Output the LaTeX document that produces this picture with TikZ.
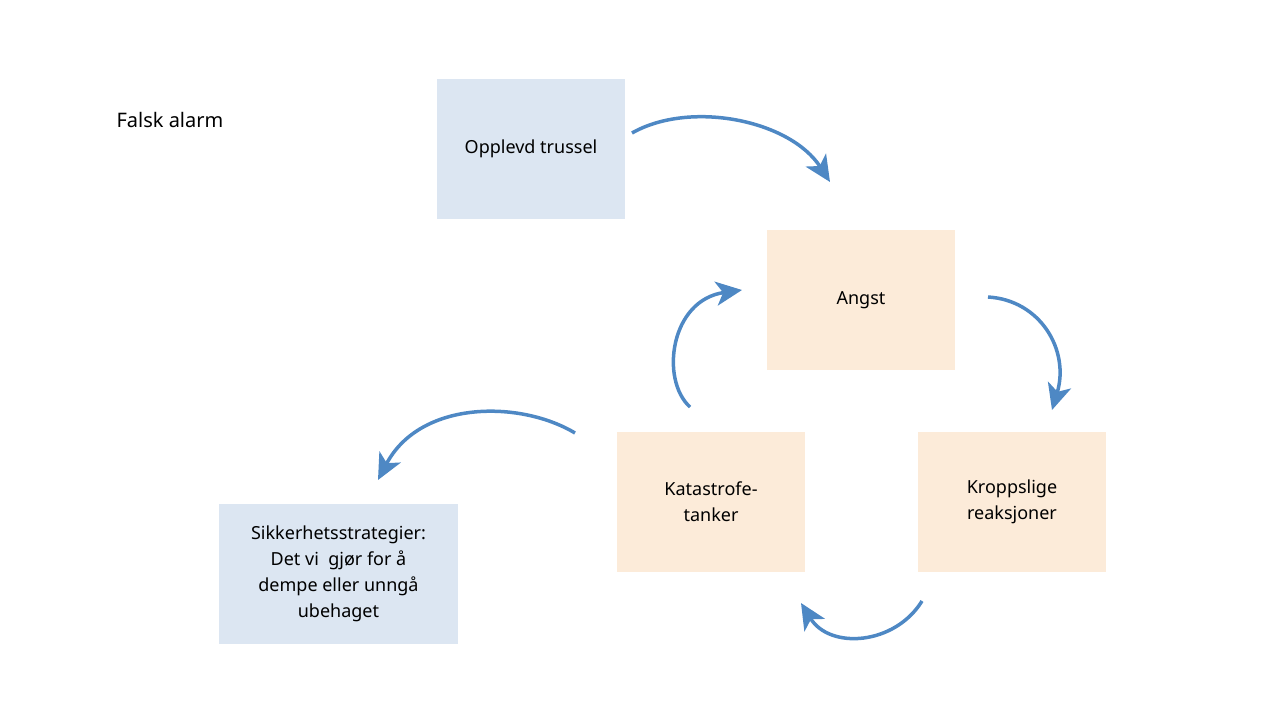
\documentclass[tikz,border=0pt]{standalone}
\usepackage{fontspec}
\setmainfont{Noto Sans}
\usetikzlibrary{arrows.meta}
\definecolor{bl}{HTML}{DCE6F2}
\definecolor{or}{HTML}{FCEBD9}
\definecolor{ar}{HTML}{4E88C4}
\begin{document}
\begin{tikzpicture}[x=1pt,y=-1pt,
 box/.style={draw=none,minimum width=188pt,minimum height=140pt,align=center,font=\fontsize{18}{26}\selectfont},
 cur/.style={draw=ar,line width=3.5pt,-{Stealth[length=26pt,width=24pt,inset=7pt]}}]
\useasboundingbox (0,0) rectangle (1280,720);
\node[anchor=west,font=\fontsize{20}{24}\selectfont\bfseries] (t) at (113,120) {Falsk alarm};
\node[box,fill=bl] (o) at (531,149) {Opplevd trussel};
\node[box,fill=or] (a) at (861,300) {Angst};
\node[box,fill=or] (k) at (711,502) {Katastrofe-\\tanker};
\node[box,fill=or] (r) at (1012,502) {Kroppslige\\reaksjoner};
\node[box,fill=bl,minimum width=239pt] (s) at (338.5,574) {\textbf{Sikkerhetsstrategier:}\\Det vi\ \ gjør for å\\dempe eller unngå\\ubehaget};
\coordinate (a1s) at (632,133); \coordinate (a1e) at (830,182);
\coordinate (a2s) at (988,297); \coordinate (a2e) at (1052,410);
\coordinate (a3s) at (922,601); \coordinate (a3e) at (801,603);
\coordinate (a4s) at (690,407); \coordinate (a4e) at (742,290);
\coordinate (a5s) at (575,433); \coordinate (a5e) at (378,480);
\draw[cur] (a1s) .. controls (690,100) and (790,120) .. (a1e);
\draw[cur] (a2s) .. controls (1040,300) and (1070,350) .. (a2e);
\draw[cur] (a3s) .. controls (895,645) and (830,650) .. (a3e);
\draw[cur] (a4s) .. controls (660,380) and (670,300) .. (a4e);
\draw[cur] (a5s) .. controls (520,400) and (420,400) .. (a5e);
\end{tikzpicture}
\end{document}
